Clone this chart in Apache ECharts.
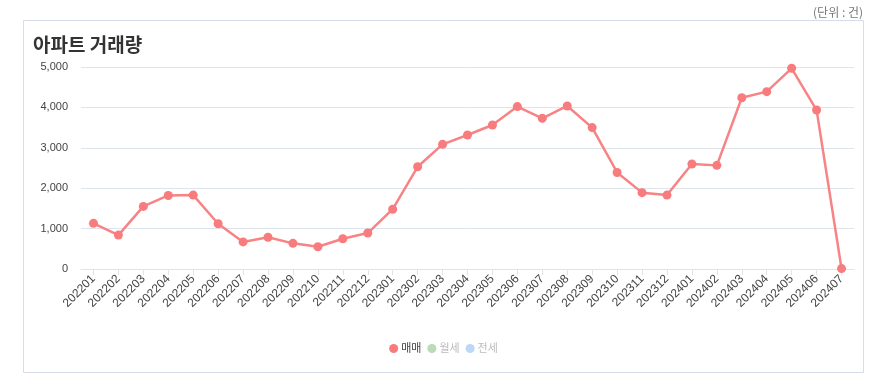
<!DOCTYPE html>
<html>
<head>
<meta charset="utf-8">
<script src="https://cdn.jsdelivr.net/npm/echarts@6/dist/echarts.min.js"></script>
<style>
  html, body { margin: 0; padding: 0; background: #fff; }
  #chart { width: 887px; height: 392px; }
</style>
</head>
<body>
<div id="chart"></div>
<script>
// 월별 카테고리
const months = [
  '202201', '202202', '202203', '202204', '202205', '202206', '202207', '202208',
  '202209', '202210', '202211', '202212', '202301', '202302', '202303', '202304',
  '202305', '202306', '202307', '202308', '202309', '202310', '202311', '202312',
  '202401', '202402', '202403', '202404', '202405', '202406', '202407'
]

// 매매 거래량
const saleCounts = [
  1130, 840, 1550, 1820, 1830, 1120, 670, 785,
  635, 550, 750, 890, 1480, 2530, 3085, 3317,
  3564, 4020, 3730, 4035, 3500, 2390, 1890, 1830,
  2600, 2565, 4240, 4390, 4968, 3935, 10
]

// 월세 / 전세 는 표시되지 않음
const monthlyRentCounts = []
const jeonseCounts = []

const yTicks = [0, 1000, 2000, 3000, 4000, 5000]

const FONT = '"Liberation Sans", Arial, "Noto Sans CJK KR", sans-serif'

const chart = echarts.init(document.getElementById('chart'))

const option = {
  animation: false,
  backgroundColor: '#fff',
  textStyle: { fontFamily: FONT },
  graphic: [
    {
      type: 'rect',
      shape: { x: 23.5, y: 20.5, width: 840, height: 352 },
      style: { fill: 'none', stroke: '#d5dee8', lineWidth: 1 },
      silent: true
    },
    {
      type: 'text',
      x: 33,
      y: 45,
      style: {
        text: '아파트 거래량',
        font: 'bold 19px "Noto Sans CJK KR", sans-serif',
        fill: '#333',
        verticalAlign: 'middle'
      }
    },
    {
      type: 'text',
      x: 863,
      y: 12,
      style: {
        text: '(단위 : 건)',
        font: '12px "Noto Sans CJK KR", sans-serif',
        fill: '#777',
        align: 'right',
        verticalAlign: 'middle'
      }
    }
  ],
  legend: {
    bottom: 33,
    left: 'center',
    icon: 'circle',
    itemWidth: 9,
    itemHeight: 9,
    itemGap: 6,
    textStyle: { fontSize: 11, fontFamily: FONT, padding: [0, 0, 0, -2] },
    data: [
      { name: '매매', textStyle: { color: '#444' } },
      { name: '월세', textStyle: { color: '#bbb' } },
      { name: '전세', textStyle: { color: '#bbb' } }
    ]
  },
  grid: {
    left: 81,
    right: 33,
    top: 67,
    bottom: 123
  },
  xAxis: {
    type: 'category',
    data: months,
    boundaryGap: true,
    axisLine: { show: true, lineStyle: { color: '#dde4ec', width: 1 } },
    axisTick: { show: true, alignWithLabel: true, length: 6, lineStyle: { color: '#dde4ec' } },
    axisLabel: {
      rotate: 45,
      interval: 0,
      margin: 8,
      fontSize: 12,
      color: '#444',
      fontFamily: FONT
    },
    splitLine: { show: false }
  },
  yAxis: {
    type: 'value',
    min: yTicks[0],
    max: yTicks[yTicks.length - 1],
    interval: 1000,
    axisLine: { show: false },
    axisTick: { show: false },
    axisLabel: {
      margin: 13,
      fontSize: 11,
      color: '#444',
      fontFamily: FONT,
      formatter: (v) => v.toLocaleString('en-US')
    },
    splitLine: { lineStyle: { color: '#dde4ec', width: 1 } }
  },
  series: [
    {
      name: '매매',
      type: 'line',
      data: saleCounts,
      symbol: 'circle',
      symbolSize: 9,
      itemStyle: { color: '#f87b7d' },
      lineStyle: { color: '#f88385', width: 2.5 }
    },
    {
      name: '월세',
      type: 'line',
      data: monthlyRentCounts,
      symbol: 'circle',
      itemStyle: { color: '#b9dbb5' }
    },
    {
      name: '전세',
      type: 'line',
      data: jeonseCounts,
      symbol: 'circle',
      itemStyle: { color: '#bcd8f6' }
    }
  ]
}

chart.setOption(option)
</script>
</body>
</html>
